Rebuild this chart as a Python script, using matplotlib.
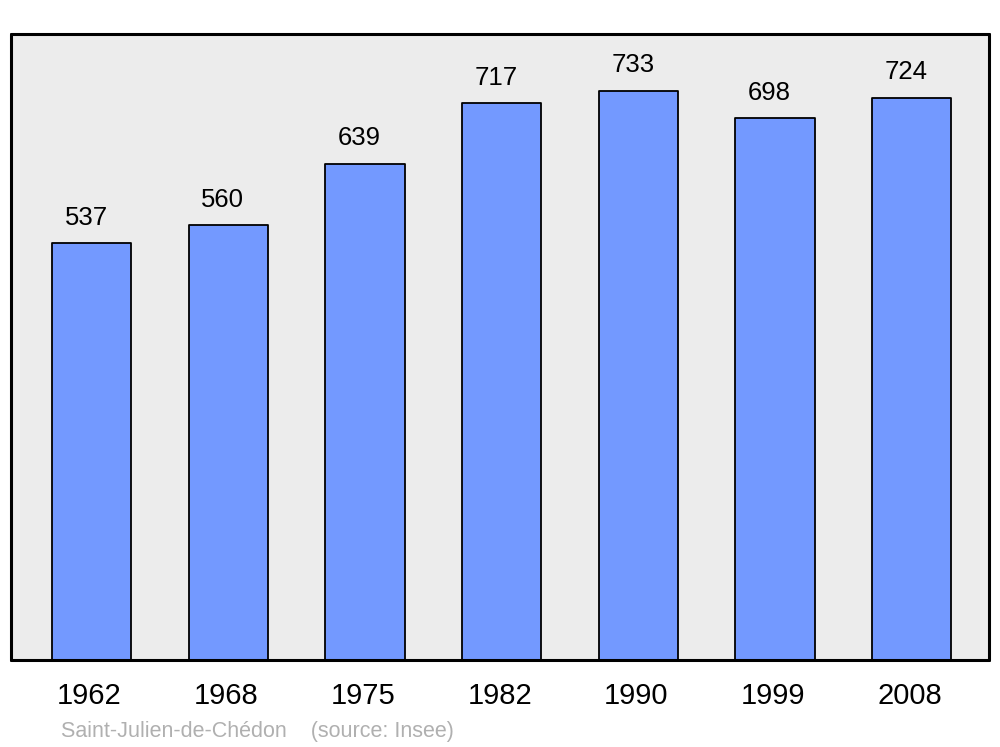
import matplotlib
matplotlib.use("Agg")
import matplotlib.pyplot as plt

years = ["1962", "1968", "1975", "1982", "1990", "1999", "2008"]
population = [537, 560, 639, 717, 733, 698, 724]
footer = "Saint-Julien-de-Chédon    (source: Insee)"

plt.rcParams['font.family'] = ['Liberation Sans', 'DejaVu Sans']

fig = plt.figure(figsize=(10, 7.47), dpi=100)
ax = fig.add_axes([0.011, 0.1165, 0.978, 0.838])
ax.set_facecolor('#ececec')

x = list(range(len(years)))
bars = ax.bar(x, population, width=0.58, color='#7399ff', edgecolor='black',
              linewidth=1.3, zorder=2)
for b in bars:
    b.set_joinstyle('round')

ax.set_xlim(-0.59, 6.565)
ax.set_ylim(0, max(population) * 1.1)

for xi, v in zip(x, population):
    ax.annotate(str(v), (xi, v), xytext=(-4, 18.3), textcoords='offset points',
                ha='center', va='center', fontsize=18.5)

ax.set_xticks(x)
ax.set_xticklabels([])
ax.tick_params(length=0, left=False, labelleft=False)
for xi, yr in zip(x, years):
    ax.annotate(yr, (xi, 0), xytext=(-1.5, -26), textcoords='offset points',
                ha='center', va='center', fontsize=21)

for s in ax.spines.values():
    s.set_linewidth(2.2)
    s.set_joinstyle('round')
    s.set_capstyle('round')

fig.text(0.061, 1 - 731.5 / 747, footer, ha='left', va='center', fontsize=15.5,
         color='#b0b0b0')

fig.savefig("out.png", dpi=100)
